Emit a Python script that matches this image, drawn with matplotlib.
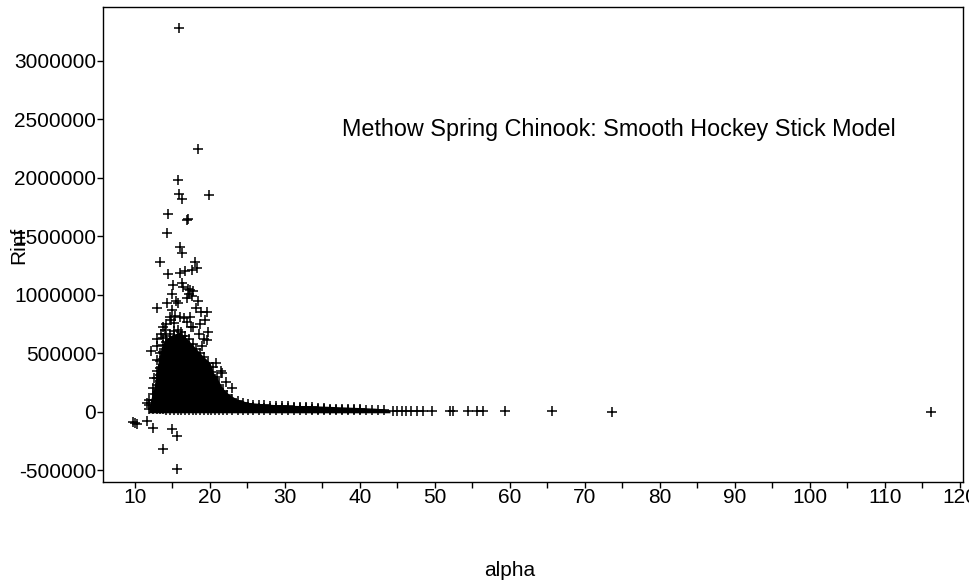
#!/usr/bin/env python3
import numpy as np
import matplotlib
matplotlib.use('Agg')
import matplotlib.pyplot as plt
from matplotlib.ticker import MultipleLocator, FuncFormatter

# scattered points (alpha, Rinf)
out_alpha = [15.9, 18.4, 15.7, 15.9, 16.3, 19.9, 14.4, 17.1, 17.0, 14.3,
             16.0, 16.3, 13.3, 18.0, 18.3, 14.4, 16.0, 16.7, 17.6, 16.3,
             15.1, 17.1, 17.8, 14.9, 18.4, 12.9, 14.3, 15.7, 18.2, 19.6,
             14.7, 16.0, 17.3, 18.7, 13.7, 19.7, 16.3, 19.6, 12.2, 12.9,
             12.5, 11.6, 15.2, 17.5, 18.9, 20.4, 21.0, 21.6, 13.0, 14.0,
             13.5, 14.2, 14.8, 15.4, 16.6, 17.0, 17.8, 18.6, 19.2, 20.8,
             21.5, 22.2, 23.0, 13.0, 15.5, 16.9, 16.4, 17.4, 15.0, 18.8,
             19.4, 17.2, 17.6,
             9.8, 10.3, 11.6, 12.4, 14.9, 15.6, 13.7, 15.6, 10.0]
out_rinf = [3280000, 2250000, 1980000, 1860000, 1820000, 1850000, 1690000,
            1650000, 1640000, 1530000, 1410000, 1360000, 1280000, 1280000,
            1230000, 1180000, 1190000, 1200000, 1210000, 1100000, 1080000,
            1050000, 1030000, 1010000, 950000, 890000, 930000, 930000,
            890000, 850000, 810000, 810000, 810000, 750000, 720000, 680000,
            650000, 610000, 520000, 440000, 290000, 70000, 760000, 720000,
            560000, 380000, 300000, 330000, 560000, 700000,
            660000, 750000, 780000, 820000, 800000, 770000, 720000, 660000,
            620000, 420000, 350000, 250000, 200000, 620000, 950000, 970000,
            1070000, 1040000, 870000, 850000, 780000, 1010000, 990000,
            -90000, -110000, -80000, -140000, -150000, -210000, -320000,
            -490000, -100000]

# dense cloud, one column of Rinf values (x1000) per alpha
cloud_cols = [
    (11.9, [20, 60, 100]),
    (12.4, [20, 60, 100, 150, 200]),
    (12.9, [20, 70, 120, 170, 230, 290, 350]),
    (13.3, [20, 60, 110, 160, 210, 260, 310, 370, 430, 500]),
    (13.7, [20, 60, 100, 150, 200, 250, 300, 350, 400, 450, 510, 570, 630]),
    (14.2, [15, 50, 90, 140, 190, 240, 290, 340, 390, 440, 490, 540, 600, 650]),
    (14.7, [15, 50, 90, 140, 190, 240, 290, 340, 390, 440, 490, 540, 600, 660]),
    (15.2, [15, 50, 90, 140, 190, 240, 290, 340, 390, 440, 490, 540, 590, 640, 690]),
    (15.7, [15, 50, 90, 140, 190, 240, 290, 340, 390, 440, 490, 540, 590, 640, 700]),
    (16.2, [15, 50, 90, 140, 190, 240, 290, 340, 390, 440, 490, 540, 590, 640, 680]),
    (16.7, [15, 50, 90, 140, 190, 240, 290, 340, 390, 440, 490, 540, 600, 650]),
    (17.2, [15, 50, 90, 140, 190, 240, 290, 340, 390, 440, 490, 540, 620]),
    (17.7, [15, 50, 90, 140, 190, 240, 290, 340, 390, 440, 490, 580]),
    (18.2, [15, 50, 90, 140, 190, 240, 290, 340, 390, 440, 540]),
    (18.7, [15, 50, 90, 140, 190, 240, 290, 340, 390, 450, 500]),
    (19.2, [15, 50, 90, 140, 190, 240, 290, 340, 400, 470]),
    (19.7, [15, 50, 90, 140, 190, 240, 290, 350, 420]),
    (20.2, [15, 50, 90, 140, 190, 240, 290, 340]),
    (20.7, [15, 50, 90, 140, 190, 240, 280]),
    (21.2, [15, 50, 90, 140, 190, 230]),
    (21.7, [15, 50, 90, 140, 180]),
    (22.3, [15, 50, 90, 140]),
    (23.0, [15, 50, 80, 110]),
    (23.7, [15, 45, 90]),
    (24.4, [15, 45, 75]),
    (25.1, [15, 40, 65]),
    (25.8, [15, 40, 60]),
    (26.5, [15, 35, 55]),
    (27.2, [15, 35, 55]),
    (28.0, [15, 35, 50]),
    (28.8, [15, 35, 50]),
    (29.6, [15, 30, 45]),
    (30.4, [15, 30, 45]),
    (31.2, [15, 30, 40]),
    (32.0, [15, 30, 40]),
    (32.8, [15, 30, 40]),
    (33.6, [15, 25, 40]),
    (34.4, [15, 25, 35]),
    (35.2, [15, 25, 35]),
    (36.0, [15, 25]),
    (36.8, [15, 25]),
    (37.6, [15, 25]),
    (38.4, [15, 20]),
    (39.2, [15, 20]),
    (40.0, [12, 20]),
    (40.8, [12]),
    (41.6, [12]),
    (42.4, [12]),
]

# outline of the solid black region where thousands of markers overlap
env_alpha = [11.8, 12.0, 12.5, 13.0, 13.5, 14.0, 15.0, 16.0, 17.0, 18.0,
             19.0, 20.0, 20.5, 21.0, 21.7, 22.5, 23.5, 25.0, 27.5, 30.0,
             34.0, 38.0, 42.0, 44.0]
env_top = [-10000, 80000, 200000, 400000, 550000, 620000, 660000, 680000,
           620000, 550000, 480000, 420000, 330000, 280000, 200000, 150000,
           110000, 80000, 65000, 55000, 50000, 40000, 30000, 15000]
env_bot = -10000

tail_alpha = [43.2, 44.4, 45.0, 45.6, 46.2, 46.8, 47.6, 48.4, 49.6, 52.0,
              52.4, 54.4, 55.6, 56.4, 59.3, 65.6, 73.6, 116.1]
tail_rinf = [10000, 8000, 9000, 8000, 7000, 9000, 5000, 8000, 8000, 9000,
             9000, 5000, 7000, 9000, 9000, 9000, -4000, -2000]

title_txt = 'Methow Spring Chinook: Smooth Hockey Stick Model'

cl_alpha = []
cl_rinf = []
for a, vals in cloud_cols:
    for v in vals:
        cl_alpha.append(a)
        cl_rinf.append(v * 1000.)

all_alpha = np.array(out_alpha + cl_alpha + tail_alpha)
all_rinf = np.array(out_rinf + cl_rinf + tail_rinf)

plt.rcParams['font.family'] = ['Liberation Sans', 'DejaVu Sans']

W, H = 969, 582
fig = plt.figure(figsize=(W / 100., H / 100.), dpi=100)
ax = fig.add_axes([102.5 / W, 1 - 482. / H, (963 - 102.5) / W, (482 - 7.) / H])

ax.fill_between(env_alpha, env_bot, env_top, color='black', lw=0)
ax.plot(all_alpha, all_rinf, linestyle='none', marker='+', ms=6.5,
        mew=1.1, color='black')

ax.set_xlim(5.67, 120.4)
ax.set_ylim(-602000, 3462000)
ax.xaxis.set_major_locator(MultipleLocator(10))
ax.xaxis.set_minor_locator(MultipleLocator(5))
ax.yaxis.set_major_locator(MultipleLocator(500000))
ax.yaxis.set_major_formatter(FuncFormatter(lambda v, p: '%d' % v))
ax.tick_params(axis='both', which='both', direction='out', length=4,
               width=1, labelsize=15, pad=0.5, color='black')
for sp in ax.spines.values():
    sp.set_linewidth(1.0)

ax.text(37.6, 2410000, title_txt, fontsize=16.8, ha='left', va='center')

fig.text(510. / W, 1 - 570. / H, 'alpha', fontsize=15, ha='center', va='center')
fig.text(19. / W, 1 - 245. / H, 'Rinf', fontsize=15, rotation=90,
         ha='center', va='center')

fig.savefig('out.png', dpi=100)
